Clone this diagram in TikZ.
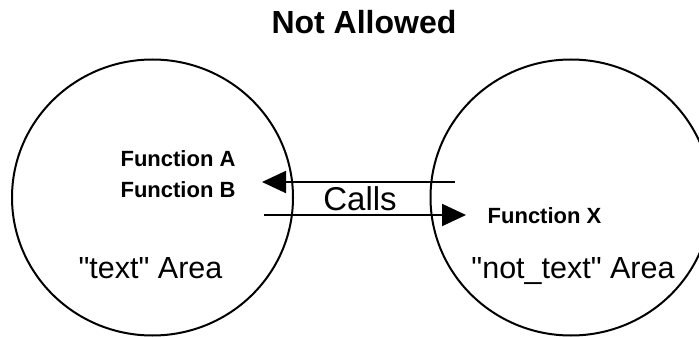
\documentclass[tikz,border=0pt]{standalone}
\usepackage{fontspec}
\setmainfont{Liberation Sans}
\usetikzlibrary{shapes.geometric}
\usetikzlibrary{arrows.meta}
\tikzset{>={Triangle[length=24pt,width=22pt]}}
\tikzset{area/.style = {shape=ellipse, draw, line width=2pt,
minimum width=281pt, minimum height=276pt, inner sep=0pt, outer sep=0pt}}
\tikzset{func/.style = {anchor=base, inner sep=0pt,
font=\fontsize{22}{26}\selectfont\bfseries}}
\tikzset{areaname/.style = {anchor=base, inner sep=0pt,
font=\fontsize{30.5}{36}\selectfont}}

\begin{document}
\begin{tikzpicture}[x=1pt,y=-1pt]
                \useasboundingbox (0,0) rectangle (699,337);
                \clip (0,0) rectangle (699,337);

                \node[anchor=base, inner sep=0pt, font=\fontsize{32}{38}\selectfont\bfseries]
                    (head) at (364,34) {Not Allowed};

                \node[area] (text) at (152.5,197.5) {};
                \node[area] (nottext) at (571,197.5) {};

                \node[func] (fA) at (178,166) {Function A};
                \node[func] (fB) at (178,197) {Function B};
                \node[func] (fX) at (544.5,223) {Function X};

                \node[areaname] (textname) at (150.5,278)
                    {\textquotedbl text\textquotedbl{} Area};
                \node[areaname] (nottextname) at (573,278)
                    {\textquotedbl not\_text\textquotedbl{} Area};

                \node[anchor=base, inner sep=0pt, font=\fontsize{33}{38}\selectfont]
                    (calls) at (360,210) {Calls};

                \coordinate (backstart) at (455,182);
                \coordinate (backend) at (262,182);
                \coordinate (callstart) at (264,215);
                \coordinate (callend) at (466,215);

                \draw[->, line width=2pt] (backstart) to (backend);
                \draw[->, line width=2pt] (callstart) to (callend);
            \end{tikzpicture}
\end{document}
